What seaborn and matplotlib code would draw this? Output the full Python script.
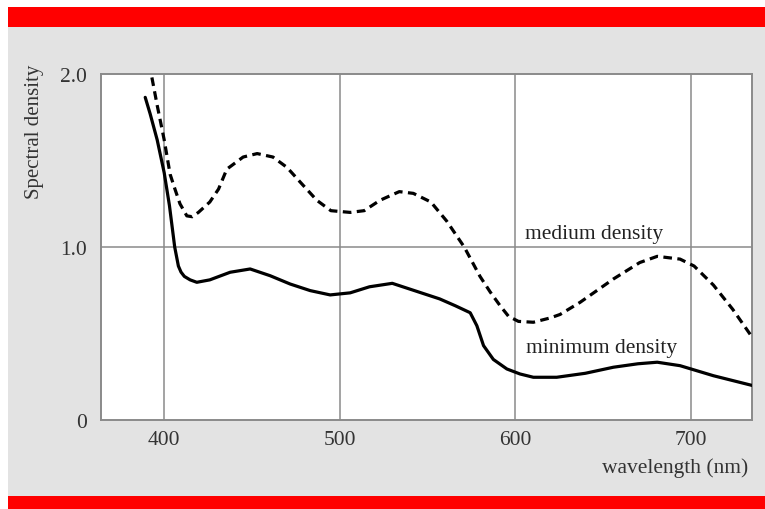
import matplotlib
matplotlib.use("Agg")
import matplotlib.pyplot as plt
import seaborn as sns
import pandas as pd
from matplotlib.patches import Rectangle

# ---- data ----
min_wl = [389.2, 392, 396, 400, 403, 406, 408.1, 409.6, 411.5, 414.8, 418.6, 426, 437.6, 449,
          460.4, 471.8, 483.2, 494.6, 506, 517, 530, 542, 557, 566, 574.4, 578.2, 582,
          587.6, 595.3, 602.8, 610.4, 623.7, 640, 656, 670, 681, 694, 713, 735]
min_density = [1.865, 1.77, 1.62, 1.43, 1.24, 1.0, 0.89, 0.855, 0.83, 0.81, 0.796, 0.81, 0.854,
               0.873, 0.834, 0.786, 0.748, 0.723, 0.735, 0.77, 0.79, 0.75, 0.70, 0.66, 0.62,
               0.545, 0.43, 0.35, 0.295, 0.266, 0.247, 0.247, 0.27, 0.305, 0.325, 0.334,
               0.314, 0.256, 0.20]

med_wl = [393, 396, 400, 403.4, 406.3, 409, 412.9, 416, 419.5, 426, 431, 435.7, 445, 453,
          462, 470, 478, 487, 495, 506, 514, 523, 534, 542, 552, 561, 571, 580, 585.8,
          591.5, 596.2, 601.9, 610.4, 620, 625.6, 637, 656, 671, 681, 694, 702, 713, 724,
          735]
med_density = [1.98, 1.82, 1.62, 1.42, 1.33, 1.25, 1.18, 1.175, 1.20, 1.26, 1.335, 1.45,
               1.52, 1.54, 1.52, 1.46, 1.37, 1.27, 1.21, 1.20, 1.21, 1.27, 1.32, 1.31, 1.26,
               1.15, 1.00, 0.83, 0.74, 0.66, 0.60, 0.57, 0.565, 0.59, 0.61, 0.68, 0.815,
               0.91, 0.946, 0.93, 0.89, 0.78, 0.64, 0.48]

x_ticks = [400, 500, 600, 700]
y_ticks = [0, 1.0, 2.0]
y_tick_labels = ["0", "1.0", "2.0"]

sns.set_theme(style="white")
plt.rcParams["font.family"] = ["Liberation Serif", "DejaVu Serif"]

fig = plt.figure(figsize=(7.65, 5.1), dpi=100)
fig.patch.set_facecolor("white")
# grey panel + red bars
fig.patches.append(Rectangle((8/765, 12/510), 1 - 8/765, 470/510, transform=fig.transFigure,
                             facecolor="#e3e3e3", edgecolor="none", zorder=-2))
fig.patches.append(Rectangle((8/765, (510-28)/510), 1 - 8/765, 20/510, transform=fig.transFigure,
                             facecolor="#ff0000", edgecolor="none", zorder=-1))
fig.patches.append(Rectangle((8/765, 0), 1 - 8/765, 13/510, transform=fig.transFigure,
                             facecolor="#ff0000", edgecolor="none", zorder=-1))

ax = fig.add_axes([101/765, (510-421)/510, (752-101)/765, (421-75)/510])
ax.set_facecolor("white")

df_min = pd.DataFrame({"wl": min_wl, "d": min_density})
df_med = pd.DataFrame({"wl": med_wl, "d": med_density})

sns.lineplot(data=df_min, x="wl", y="d", ax=ax, color="black", lw=2.3, sort=False, zorder=3)
sns.lineplot(data=df_med, x="wl", y="d", ax=ax, color="black", lw=2.3, sort=False, zorder=3)
for ln in ax.lines:
    ln.set_solid_joinstyle("round")
    ln.set_dash_joinstyle("round")
ax.lines[-1].set_dashes([2.7, 1.7])

ax.set_xlim(364, 735)
ax.set_ylim(0, 2.0)
ax.set_xticks(x_ticks)
ax.set_yticks(y_ticks)
ax.set_yticklabels(y_tick_labels)
ax.tick_params(axis="both", length=0, labelsize=15.5, labelcolor="#333333")
ax.tick_params(axis="x", pad=7)
ax.tick_params(axis="y", pad=10)
ax.set_xlabel("")
ax.set_ylabel("")

ax.grid(False)
for x in x_ticks:
    ax.axvline(x, color="#8a8a8a", lw=1.1, zorder=1)
ax.axhline(1.0, color="#8a8a8a", lw=1.1, zorder=1)
for s in ax.spines.values():
    s.set_color("#8a8a8a")
    s.set_linewidth(1.4)

ax.text(605.5, 1.08, "medium density", fontsize=15.5, color="#222222", va="center", ha="left")
ax.text(606, 0.42, "minimum density", fontsize=15.5, color="#222222", va="center", ha="left")

fig.text(748/765, (510-468)/510, "wavelength (nm)", fontsize=15.5, color="#333333",
         ha="right", va="center")
fig.text(35/765, (510-65)/510, "Spectral density", fontsize=15, color="#333333",
         rotation=90, ha="center", va="top")

fig.savefig("out.png", dpi=100, facecolor=fig.get_facecolor())
